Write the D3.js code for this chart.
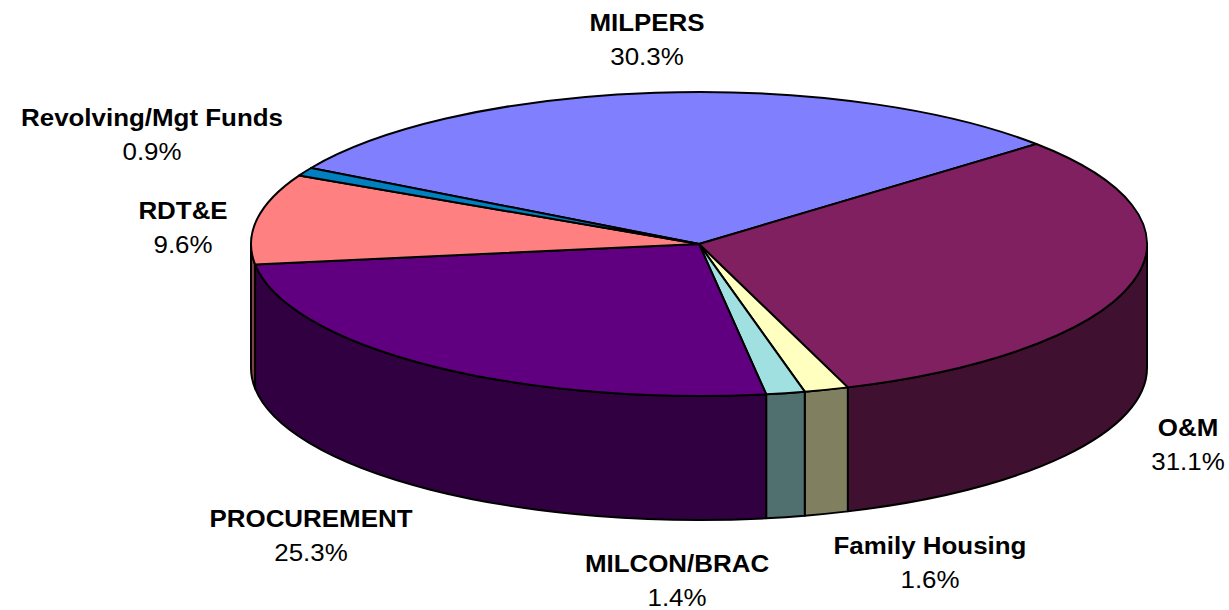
<!DOCTYPE html>
<html>
<head>
<meta charset="utf-8">
<script src="https://cdn.jsdelivr.net/npm/d3@7"></script>
<style>
  html, body { margin: 0; padding: 0; background: #fff; }
  svg { display: block; font-family: "Liberation Sans", Arial, sans-serif; }
</style>
</head>
<body>
<svg width="1229" height="610"></svg>
<script>
// chart data
var categories = ["MILPERS", "O&M", "Family Housing", "MILCON/BRAC", "PROCUREMENT", "RDT&E", "Revolving/Mgt Funds"];
var shares = [30.3, 31.1, 1.6, 1.4, 25.3, 9.6, 0.9];
var pctLabels = ["30.3%", "31.1%", "1.6%", "1.4%", "25.3%", "9.6%", "0.9%"];
var topColors = ["#8080ff", "#802060", "#ffffc0", "#a0e0e0", "#600080", "#ff8080", "#0080c0"];

// label layout (center x, baseline of the bold name)
var labelPos = [[647, 31], [1188, 436], [930, 554], [677, 572], [311, 527], [183, 219], [152, 126]];

(function () {
    var svg = d3.select("svg"),
        cx = 699, cy = 244,       // centre of the top face
        rx = 448, ry = 152,       // top ellipse radii
        depth = 124;

    var pie = d3.pie()
        .sort(null)
        .value(function (d) { return d; })
        .startAngle(-60 * Math.PI / 180)
        .endAngle(300 * Math.PI / 180);

    var slices = pie(shares).map(function (d, i) {
        return {
            name: categories[i],
            pct: pctLabels[i],
            color: topColors[i],
            side: d3.interpolateRgb(topColors[i], "#000")(0.5),
            a0: d.startAngle,
            a1: d.endAngle
        };
    });

    // angle measured clockwise from 12 o'clock
    function pt(a, dy) {
        return [cx + rx * Math.sin(a), cy - ry * Math.cos(a) + (dy || 0)];
    }

    function arcTo(a0, a1, dy, sweep) {
        var p = pt(a1, dy);
        var large = Math.abs(a1 - a0) > Math.PI ? 1 : 0;
        return "A" + rx + "," + ry + " 0 " + large + " " + sweep + " " + p[0] + "," + p[1];
    }

    function topPath(s) {
        var p0 = pt(s.a0);
        return "M" + cx + "," + cy + "L" + p0[0] + "," + p0[1] + arcTo(s.a0, s.a1, 0, 1) + "Z";
    }

    // only the front half of the rim (90deg..270deg) is visible
    function sidePath(s) {
        var lo = Math.max(s.a0, Math.PI / 2),
            hi = Math.min(s.a1, 3 * Math.PI / 2);
        if (lo >= hi) { return null; }
        var p0 = pt(lo), p1 = pt(hi, depth);
        return "M" + p0[0] + "," + p0[1] + arcTo(lo, hi, 0, 1) +
            "L" + p1[0] + "," + p1[1] + arcTo(hi, lo, depth, 0) + "Z";
    }

    var g = svg.append("g");

    // side walls first
    g.selectAll(".side")
        .data(slices.filter(function (s) { return sidePath(s) !== null; }))
        .enter().append("path")
        .attr("class", "side")
        .attr("d", sidePath)
        .attr("fill", function (d) { return d.side; })
        .attr("stroke", "#000")
        .attr("stroke-width", 2)
        .attr("stroke-linejoin", "round");

    // top faces
    g.selectAll(".top")
        .data(slices)
        .enter().append("path")
        .attr("class", "top")
        .attr("d", topPath)
        .attr("fill", function (d) { return d.color; })
        .attr("stroke", "#000")
        .attr("stroke-width", 2)
        .attr("stroke-linejoin", "round");

    // labels
    var labels = svg.selectAll(".lbl")
        .data(slices)
        .enter().append("g")
        .attr("class", "lbl")
        .attr("transform", function (d, i) {
            return "translate(" + labelPos[i][0] + "," + labelPos[i][1] + ") scale(1.08,1)";
        });

    labels.append("text")
        .attr("text-anchor", "middle")
        .style("font-size", "24px")
        .style("font-weight", "bold")
        .text(function (d) { return d.name; });

    labels.append("text")
        .attr("text-anchor", "middle")
        .attr("y", 34)
        .style("font-size", "24px")
        .text(function (d) { return d.pct; });
})();
</script>
</body>
</html>
